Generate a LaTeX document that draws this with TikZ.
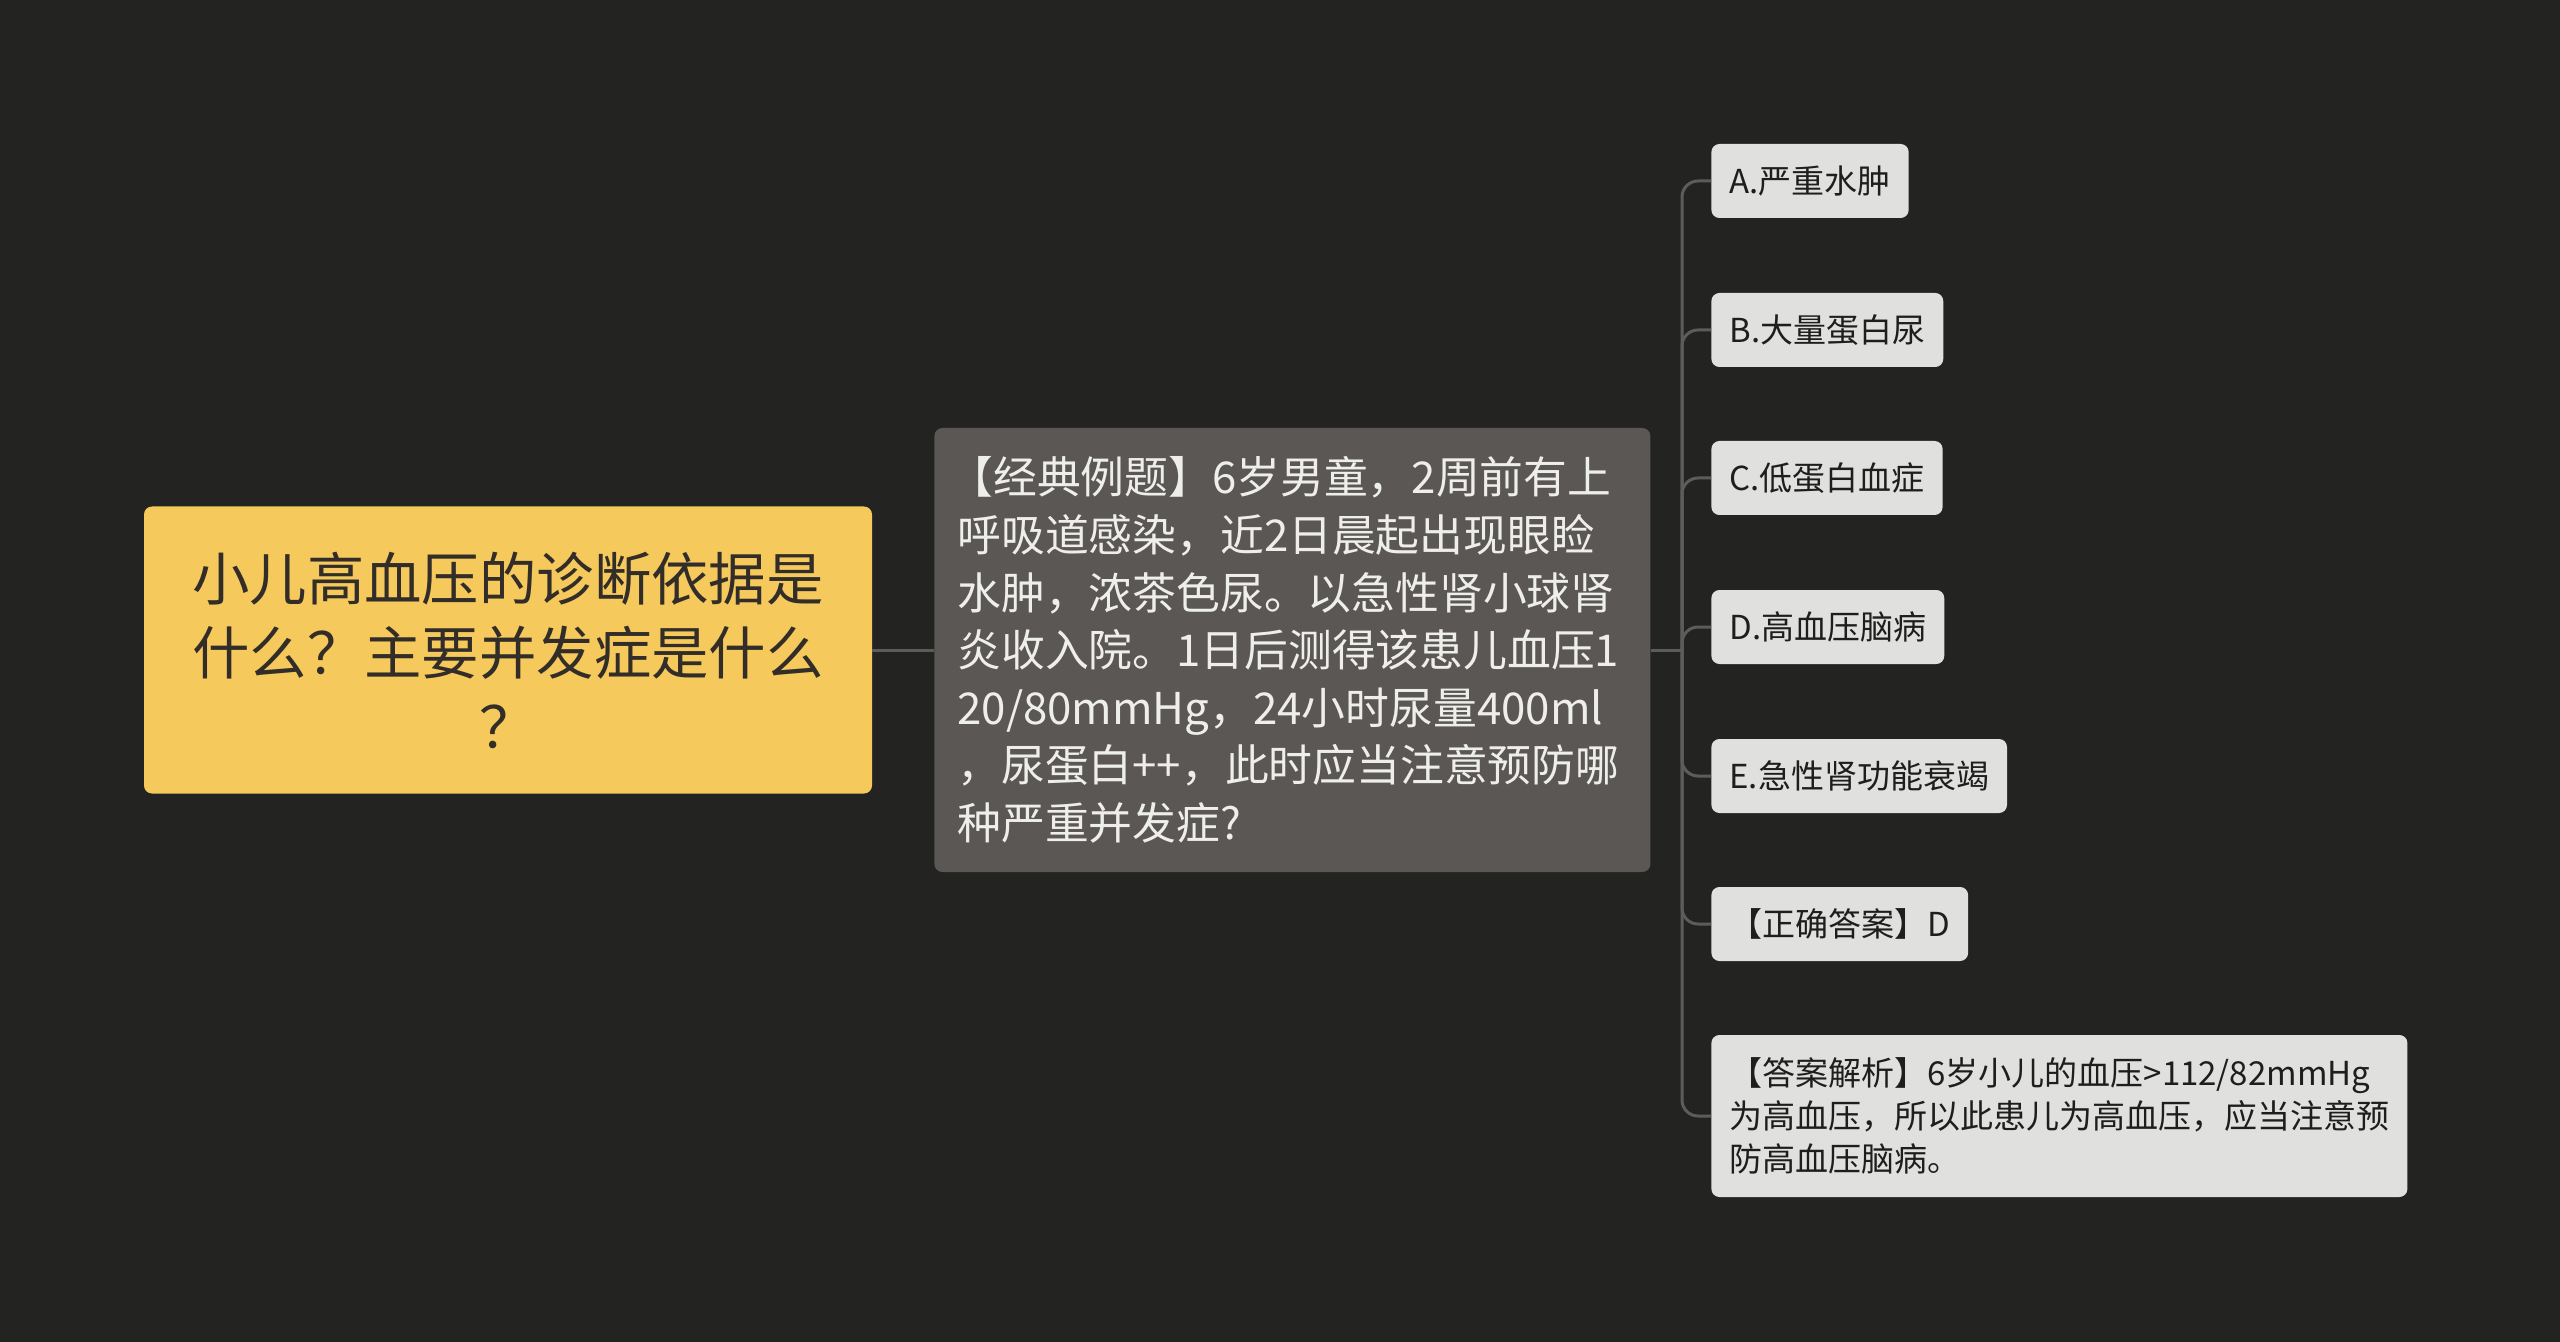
\documentclass[tikz,border=0pt]{standalone}
\usepackage{fontspec}
\setmainfont{Noto Sans CJK SC}
\definecolor{bg}{RGB}{35,35,34}
\definecolor{rootfill}{RGB}{245,201,92}
\definecolor{rootink}{RGB}{50,45,40}
\definecolor{midfill}{RGB}{90,87,84}
\definecolor{midink}{RGB}{238,238,236}
\definecolor{leaffill}{RGB}{224,224,222}
\definecolor{leafink}{RGB}{30,30,30}
\definecolor{link}{RGB}{92,92,90}

\begin{document}
\begin{tikzpicture}[x=0.5pt,y=-0.5pt,
  rootbox/.style={fill=rootfill, text=rootink, rounded corners=4pt, inner sep=0pt,
    minimum width=364pt, minimum height=143.5pt, text width=330pt, align=center,
    font=\fontsize{28.7}{37}\selectfont},
  midbox/.style={fill=midfill, text=midink, rounded corners=4pt, inner xsep=11.5pt, inner ysep=0pt,
    minimum height=222pt, text width=335pt, align=left, anchor=west,
    font=\fontsize{21.9}{28.8}\selectfont},
  leafbox/.style={fill=leaffill, text=leafink, rounded corners=4pt, inner xsep=9pt, inner ysep=0pt,
    minimum height=37pt, anchor=west, align=left,
    font=\fontsize{16.5}{21.6}\selectfont},
  link/.style={draw=link, line width=1.5pt}]

% background
    \fill[bg] (0,0) rectangle (2560,1342);

% nodes
    \node[rootbox] (root) at (508,650) {小儿高血压的诊断依据是\\什么？主要并发症是什么\\？};
    \node[midbox] (case) at (934,650) {\hspace*{-4pt}【经典例题】6岁男童，2周前有上\\呼吸道感染，近2日晨起出现眼睑\\水肿，浓茶色尿。以急性肾小球肾\\炎收入院。1日后测得该患儿血压1\\20/80mmHg，24小时尿量400ml\\，尿蛋白++，此时应当注意预防哪\\种严重并发症?};

    \node[leafbox] (optA) at (1711,181) {A.严重水肿};
    \node[leafbox] (optB) at (1711,330) {B.大量蛋白尿};
    \node[leafbox] (optC) at (1711,478) {C.低蛋白血症};
    \node[leafbox] (optD) at (1711,627) {D.高血压脑病};
    \node[leafbox] (optE) at (1711,776) {E.急性肾功能衰竭};
    \node[leafbox] (answer) at (1711,924) {【正确答案】D};
    \node[leafbox, minimum height=81pt] (explain) at (1711,1116) {【答案解析】6岁小儿的血压>112/82mmHg\\为高血压，所以此患儿为高血压，应当注意预\\防高血压脑病。};

% links
    \coordinate (fork) at (1682,650);
    \draw[link] (root.east) -- (case.west);
    \draw[link] (case.east) -- (fork);
    \foreach \leaf in {optA,optB,optC,optD,optE,answer,explain}{
        \draw[link, rounded corners=8pt] (fork) |- (\leaf.west);
    }

\end{tikzpicture}
\end{document}
